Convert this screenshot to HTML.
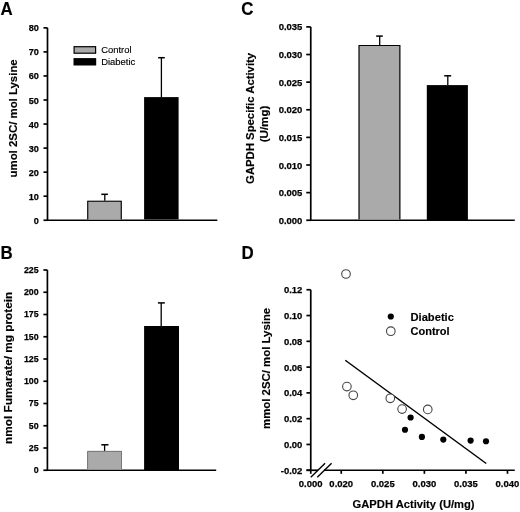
<!DOCTYPE html>
<html><head><meta charset="utf-8"><style>
html,body{margin:0;padding:0;background:#fff;}
svg{display:block;will-change:transform;}
text{font-family:"Liberation Sans",sans-serif;fill:#000;}
.tk{stroke:#000;stroke-width:0.2px;}
text{stroke:#000;stroke-width:0.15px;}
.tk{stroke-width:0.25px;}
</style></head><body>
<svg width="520" height="512" viewBox="0 0 520 512">
<rect width="520" height="512" fill="#fff"/>
<text x="0.4" y="14.5" font-size="17.6" font-weight="bold" textLength="12.2" lengthAdjust="spacingAndGlyphs">A</text>
<text x="0.6" y="258.6" font-size="17.6" font-weight="bold" textLength="12.2" lengthAdjust="spacingAndGlyphs">B</text>
<text x="241.2" y="14.5" font-size="17.6" font-weight="bold" textLength="12.2" lengthAdjust="spacingAndGlyphs">C</text>
<text x="241.6" y="258.6" font-size="17.6" font-weight="bold" textLength="12.2" lengthAdjust="spacingAndGlyphs">D</text>
<line x1="47.5" y1="27.850000000000023" x2="47.5" y2="221.0" stroke="#000" stroke-width="1.7"/>
<line x1="43.5" y1="220.25" x2="47.5" y2="220.25" stroke="#000" stroke-width="1.7"/>
<text class="tk" x="38.9" y="223.75" font-size="9.8" font-weight="bold" text-anchor="end" textLength="5.07" lengthAdjust="spacingAndGlyphs">0</text>
<line x1="43.5" y1="196.2" x2="47.5" y2="196.2" stroke="#000" stroke-width="1.7"/>
<text class="tk" x="38.9" y="199.7" font-size="9.8" font-weight="bold" text-anchor="end" textLength="10.14" lengthAdjust="spacingAndGlyphs">10</text>
<line x1="43.5" y1="172.15" x2="47.5" y2="172.15" stroke="#000" stroke-width="1.7"/>
<text class="tk" x="38.9" y="175.65" font-size="9.8" font-weight="bold" text-anchor="end" textLength="10.14" lengthAdjust="spacingAndGlyphs">20</text>
<line x1="43.5" y1="148.10000000000002" x2="47.5" y2="148.10000000000002" stroke="#000" stroke-width="1.7"/>
<text class="tk" x="38.9" y="151.60000000000002" font-size="9.8" font-weight="bold" text-anchor="end" textLength="10.14" lengthAdjust="spacingAndGlyphs">30</text>
<line x1="43.5" y1="124.05000000000001" x2="47.5" y2="124.05000000000001" stroke="#000" stroke-width="1.7"/>
<text class="tk" x="38.9" y="127.55000000000001" font-size="9.8" font-weight="bold" text-anchor="end" textLength="10.14" lengthAdjust="spacingAndGlyphs">40</text>
<line x1="43.5" y1="100.00000000000001" x2="47.5" y2="100.00000000000001" stroke="#000" stroke-width="1.7"/>
<text class="tk" x="38.9" y="103.50000000000001" font-size="9.8" font-weight="bold" text-anchor="end" textLength="10.14" lengthAdjust="spacingAndGlyphs">50</text>
<line x1="43.5" y1="75.95000000000002" x2="47.5" y2="75.95000000000002" stroke="#000" stroke-width="1.7"/>
<text class="tk" x="38.9" y="79.45000000000002" font-size="9.8" font-weight="bold" text-anchor="end" textLength="10.14" lengthAdjust="spacingAndGlyphs">60</text>
<line x1="43.5" y1="51.900000000000006" x2="47.5" y2="51.900000000000006" stroke="#000" stroke-width="1.7"/>
<text class="tk" x="38.9" y="55.400000000000006" font-size="9.8" font-weight="bold" text-anchor="end" textLength="10.14" lengthAdjust="spacingAndGlyphs">70</text>
<line x1="43.5" y1="27.850000000000023" x2="47.5" y2="27.850000000000023" stroke="#000" stroke-width="1.7"/>
<text class="tk" x="38.9" y="31.350000000000023" font-size="9.8" font-weight="bold" text-anchor="end" textLength="10.14" lengthAdjust="spacingAndGlyphs">80</text>
<line x1="46.75" y1="220.25" x2="217.3" y2="220.25" stroke="#000" stroke-width="1.7"/>
<rect x="87.20" y="200.70" width="34.60" height="18.70" fill="#aaaaaa"/>
<path d="M87.75,219.40 V201.25 H121.25 V219.40" fill="none" stroke="#000" stroke-width="1.1"/>
<line x1="104.8" y1="200.7" x2="104.8" y2="194.3" stroke="#000" stroke-width="1.3"/>
<line x1="101.3" y1="194.3" x2="107.9" y2="194.3" stroke="#000" stroke-width="1.5"/>
<rect x="144.10" y="97.10" width="34.50" height="122.30" fill="#000"/>
<line x1="161.4" y1="97.1" x2="161.4" y2="57.7" stroke="#000" stroke-width="1.3"/>
<line x1="158.1" y1="57.7" x2="164.8" y2="57.7" stroke="#000" stroke-width="1.5"/>
<rect x="74.10" y="46.70" width="21.50" height="6.50" fill="#aaaaaa" stroke="#000" stroke-width="1.2"/>
<rect x="73.50" y="58.10" width="22.70" height="7.40" fill="#000"/>
<text x="101.2" y="53.3" font-size="9.9" font-weight="normal" text-anchor="start" textLength="30.4" lengthAdjust="spacingAndGlyphs">Control</text>
<text x="101.2" y="65.2" font-size="9.9" font-weight="normal" text-anchor="start" textLength="34.1" lengthAdjust="spacingAndGlyphs">Diabetic</text>
<text transform="translate(17.4,118.4) rotate(-90)" x="0" y="0" font-size="10.6" font-weight="bold" text-anchor="middle" textLength="118.2" lengthAdjust="spacingAndGlyphs">umol 2SC/ mol Lysine</text>
<line x1="47.4" y1="270.0" x2="47.4" y2="471.0" stroke="#000" stroke-width="1.7"/>
<line x1="43.4" y1="470.25" x2="47.4" y2="470.25" stroke="#000" stroke-width="1.7"/>
<text class="tk" x="38.7" y="473.15" font-size="9.8" font-weight="bold" text-anchor="end" textLength="4.92" lengthAdjust="spacingAndGlyphs">0</text>
<line x1="43.4" y1="448.0" x2="47.4" y2="448.0" stroke="#000" stroke-width="1.7"/>
<text class="tk" x="38.7" y="450.9" font-size="9.8" font-weight="bold" text-anchor="end" textLength="9.83" lengthAdjust="spacingAndGlyphs">25</text>
<line x1="43.4" y1="425.75" x2="47.4" y2="425.75" stroke="#000" stroke-width="1.7"/>
<text class="tk" x="38.7" y="428.65" font-size="9.8" font-weight="bold" text-anchor="end" textLength="9.83" lengthAdjust="spacingAndGlyphs">50</text>
<line x1="43.4" y1="403.5" x2="47.4" y2="403.5" stroke="#000" stroke-width="1.7"/>
<text class="tk" x="38.7" y="406.4" font-size="9.8" font-weight="bold" text-anchor="end" textLength="9.83" lengthAdjust="spacingAndGlyphs">75</text>
<line x1="43.4" y1="381.25" x2="47.4" y2="381.25" stroke="#000" stroke-width="1.7"/>
<text class="tk" x="38.7" y="384.15" font-size="9.8" font-weight="bold" text-anchor="end" textLength="14.75" lengthAdjust="spacingAndGlyphs">100</text>
<line x1="43.4" y1="359.0" x2="47.4" y2="359.0" stroke="#000" stroke-width="1.7"/>
<text class="tk" x="38.7" y="361.9" font-size="9.8" font-weight="bold" text-anchor="end" textLength="14.75" lengthAdjust="spacingAndGlyphs">125</text>
<line x1="43.4" y1="336.75" x2="47.4" y2="336.75" stroke="#000" stroke-width="1.7"/>
<text class="tk" x="38.7" y="339.65" font-size="9.8" font-weight="bold" text-anchor="end" textLength="14.75" lengthAdjust="spacingAndGlyphs">150</text>
<line x1="43.4" y1="314.5" x2="47.4" y2="314.5" stroke="#000" stroke-width="1.7"/>
<text class="tk" x="38.7" y="317.4" font-size="9.8" font-weight="bold" text-anchor="end" textLength="14.75" lengthAdjust="spacingAndGlyphs">175</text>
<line x1="43.4" y1="292.25" x2="47.4" y2="292.25" stroke="#000" stroke-width="1.7"/>
<text class="tk" x="38.7" y="295.15" font-size="9.8" font-weight="bold" text-anchor="end" textLength="14.75" lengthAdjust="spacingAndGlyphs">200</text>
<line x1="43.4" y1="270.0" x2="47.4" y2="270.0" stroke="#000" stroke-width="1.7"/>
<text class="tk" x="38.7" y="272.9" font-size="9.8" font-weight="bold" text-anchor="end" textLength="14.75" lengthAdjust="spacingAndGlyphs">225</text>
<line x1="46.65" y1="470.25" x2="216.2" y2="470.25" stroke="#000" stroke-width="1.7"/>
<rect x="87.10" y="450.90" width="34.90" height="18.50" fill="#aaaaaa"/>
<path d="M87.60,469.40 V451.40 H121.50 V469.40" fill="none" stroke="#777" stroke-width="1.0"/>
<line x1="104.6" y1="450.9" x2="104.6" y2="444.8" stroke="#000" stroke-width="1.3"/>
<line x1="101.3" y1="444.8" x2="108.5" y2="444.8" stroke="#000" stroke-width="1.5"/>
<rect x="144.10" y="326.00" width="34.90" height="144.25" fill="#000"/>
<line x1="161.2" y1="326" x2="161.2" y2="302.9" stroke="#000" stroke-width="1.3"/>
<line x1="157.9" y1="302.9" x2="164.8" y2="302.9" stroke="#000" stroke-width="1.5"/>
<text transform="translate(11.9,367.8) rotate(-90)" x="0" y="0" font-size="10.6" font-weight="bold" text-anchor="middle" textLength="152.2" lengthAdjust="spacingAndGlyphs">nmol Fumarate/ mg protein</text>
<line x1="310.75" y1="26.9" x2="310.75" y2="221.0" stroke="#000" stroke-width="1.7"/>
<line x1="306.25" y1="220.25" x2="310.75" y2="220.25" stroke="#000" stroke-width="1.7"/>
<text class="tk" x="302.4" y="223.75" font-size="9.8" font-weight="bold" text-anchor="end" textLength="23.77" lengthAdjust="spacingAndGlyphs">0.000</text>
<line x1="306.25" y1="192.62857142857143" x2="310.75" y2="192.62857142857143" stroke="#000" stroke-width="1.7"/>
<text class="tk" x="302.4" y="196.12857142857143" font-size="9.8" font-weight="bold" text-anchor="end" textLength="23.77" lengthAdjust="spacingAndGlyphs">0.005</text>
<line x1="306.25" y1="165.00714285714287" x2="310.75" y2="165.00714285714287" stroke="#000" stroke-width="1.7"/>
<text class="tk" x="302.4" y="168.50714285714287" font-size="9.8" font-weight="bold" text-anchor="end" textLength="23.77" lengthAdjust="spacingAndGlyphs">0.010</text>
<line x1="306.25" y1="137.3857142857143" x2="310.75" y2="137.3857142857143" stroke="#000" stroke-width="1.7"/>
<text class="tk" x="302.4" y="140.8857142857143" font-size="9.8" font-weight="bold" text-anchor="end" textLength="23.77" lengthAdjust="spacingAndGlyphs">0.015</text>
<line x1="306.25" y1="109.76428571428572" x2="310.75" y2="109.76428571428572" stroke="#000" stroke-width="1.7"/>
<text class="tk" x="302.4" y="113.26428571428572" font-size="9.8" font-weight="bold" text-anchor="end" textLength="23.77" lengthAdjust="spacingAndGlyphs">0.020</text>
<line x1="306.25" y1="82.14285714285714" x2="310.75" y2="82.14285714285714" stroke="#000" stroke-width="1.7"/>
<text class="tk" x="302.4" y="85.64285714285714" font-size="9.8" font-weight="bold" text-anchor="end" textLength="23.77" lengthAdjust="spacingAndGlyphs">0.025</text>
<line x1="306.25" y1="54.5214285714286" x2="310.75" y2="54.5214285714286" stroke="#000" stroke-width="1.7"/>
<text class="tk" x="302.4" y="58.0214285714286" font-size="9.8" font-weight="bold" text-anchor="end" textLength="23.77" lengthAdjust="spacingAndGlyphs">0.030</text>
<line x1="306.25" y1="26.900000000000006" x2="310.75" y2="26.900000000000006" stroke="#000" stroke-width="1.7"/>
<text class="tk" x="302.4" y="30.400000000000006" font-size="9.8" font-weight="bold" text-anchor="end" textLength="23.77" lengthAdjust="spacingAndGlyphs">0.035</text>
<line x1="310.0" y1="220.25" x2="514.75" y2="220.25" stroke="#000" stroke-width="1.7"/>
<rect x="358.50" y="45.00" width="41.90" height="174.40" fill="#aaaaaa"/>
<path d="M359.05,219.40 V45.55 H399.85 V219.40" fill="none" stroke="#000" stroke-width="1.1"/>
<line x1="379.7" y1="45" x2="379.7" y2="36.1" stroke="#000" stroke-width="1.3"/>
<line x1="376.2" y1="36.1" x2="382.8" y2="36.1" stroke="#000" stroke-width="1.5"/>
<rect x="426.80" y="85.10" width="41.10" height="135.15" fill="#000"/>
<line x1="447.8" y1="85.1" x2="447.8" y2="75.8" stroke="#000" stroke-width="1.3"/>
<line x1="444.2" y1="75.8" x2="451.2" y2="75.8" stroke="#000" stroke-width="1.5"/>
<text transform="translate(254.3,118.4) rotate(-90)" x="0" y="0" font-size="10.6" font-weight="bold" text-anchor="middle" textLength="131.0" lengthAdjust="spacingAndGlyphs">GAPDH Specific Activity</text>
<text transform="translate(267.6,124.0) rotate(-90)" x="0" y="0" font-size="10.6" font-weight="bold" text-anchor="middle" textLength="36.6" lengthAdjust="spacingAndGlyphs">(U/mg)</text>
<line x1="310.75" y1="289.75" x2="310.75" y2="473.8" stroke="#000" stroke-width="1.7"/>
<line x1="306.45" y1="289.75" x2="310.75" y2="289.75" stroke="#000" stroke-width="1.7"/>
<text class="tk" x="302.4" y="293.25" font-size="9.8" font-weight="bold" text-anchor="end" textLength="18.49" lengthAdjust="spacingAndGlyphs">0.12</text>
<line x1="306.45" y1="315.53571428571433" x2="310.75" y2="315.53571428571433" stroke="#000" stroke-width="1.7"/>
<text class="tk" x="302.4" y="319.03571428571433" font-size="9.8" font-weight="bold" text-anchor="end" textLength="18.49" lengthAdjust="spacingAndGlyphs">0.10</text>
<line x1="306.45" y1="341.32142857142856" x2="310.75" y2="341.32142857142856" stroke="#000" stroke-width="1.7"/>
<text class="tk" x="302.4" y="344.82142857142856" font-size="9.8" font-weight="bold" text-anchor="end" textLength="18.49" lengthAdjust="spacingAndGlyphs">0.08</text>
<line x1="306.45" y1="367.1071428571429" x2="310.75" y2="367.1071428571429" stroke="#000" stroke-width="1.7"/>
<text class="tk" x="302.4" y="370.6071428571429" font-size="9.8" font-weight="bold" text-anchor="end" textLength="18.49" lengthAdjust="spacingAndGlyphs">0.06</text>
<line x1="306.45" y1="392.89285714285717" x2="310.75" y2="392.89285714285717" stroke="#000" stroke-width="1.7"/>
<text class="tk" x="302.4" y="396.39285714285717" font-size="9.8" font-weight="bold" text-anchor="end" textLength="18.49" lengthAdjust="spacingAndGlyphs">0.04</text>
<line x1="306.45" y1="418.67857142857144" x2="310.75" y2="418.67857142857144" stroke="#000" stroke-width="1.7"/>
<text class="tk" x="302.4" y="422.17857142857144" font-size="9.8" font-weight="bold" text-anchor="end" textLength="18.49" lengthAdjust="spacingAndGlyphs">0.02</text>
<line x1="306.45" y1="444.4642857142857" x2="310.75" y2="444.4642857142857" stroke="#000" stroke-width="1.7"/>
<text class="tk" x="302.4" y="447.9642857142857" font-size="9.8" font-weight="bold" text-anchor="end" textLength="18.49" lengthAdjust="spacingAndGlyphs">0.00</text>
<line x1="306.45" y1="470.25" x2="310.75" y2="470.25" stroke="#000" stroke-width="1.7"/>
<text class="tk" x="302.4" y="473.75" font-size="9.8" font-weight="bold" text-anchor="end" textLength="21.65" lengthAdjust="spacingAndGlyphs">-0.02</text>
<line x1="306.5" y1="470.25" x2="318.0" y2="470.25" stroke="#000" stroke-width="1.7"/>
<line x1="324.0" y1="470.25" x2="514.75" y2="470.25" stroke="#000" stroke-width="1.7"/>
<line x1="310.8" y1="477.3" x2="325.1" y2="463.2" stroke="#000" stroke-width="1.4"/>
<line x1="317.3" y1="477.3" x2="331.6" y2="463.2" stroke="#000" stroke-width="1.4"/>
<line x1="341.25" y1="470.25" x2="341.25" y2="473.8" stroke="#000" stroke-width="1.7"/>
<text class="tk" x="341.25" y="486.6" font-size="9.8" font-weight="bold" text-anchor="middle" textLength="23.77" lengthAdjust="spacingAndGlyphs">0.020</text>
<line x1="382.81" y1="470.25" x2="382.81" y2="473.8" stroke="#000" stroke-width="1.7"/>
<text class="tk" x="382.81" y="486.6" font-size="9.8" font-weight="bold" text-anchor="middle" textLength="23.77" lengthAdjust="spacingAndGlyphs">0.025</text>
<line x1="424.37" y1="470.25" x2="424.37" y2="473.8" stroke="#000" stroke-width="1.7"/>
<text class="tk" x="424.37" y="486.6" font-size="9.8" font-weight="bold" text-anchor="middle" textLength="23.77" lengthAdjust="spacingAndGlyphs">0.030</text>
<line x1="465.93" y1="470.25" x2="465.93" y2="473.8" stroke="#000" stroke-width="1.7"/>
<text class="tk" x="465.93" y="486.6" font-size="9.8" font-weight="bold" text-anchor="middle" textLength="23.77" lengthAdjust="spacingAndGlyphs">0.035</text>
<line x1="507.49" y1="470.25" x2="507.49" y2="473.8" stroke="#000" stroke-width="1.7"/>
<text class="tk" x="507.49" y="486.6" font-size="9.8" font-weight="bold" text-anchor="middle" textLength="23.77" lengthAdjust="spacingAndGlyphs">0.040</text>
<text class="tk" x="310.7" y="486.6" font-size="9.8" font-weight="bold" text-anchor="middle" textLength="23.77" lengthAdjust="spacingAndGlyphs">0.000</text>
<text x="413.6" y="508.0" font-size="11.2" font-weight="bold" text-anchor="middle" >GAPDH Activity (U/mg)</text>
<text transform="translate(269.6,368.4) rotate(-90)" x="0" y="0" font-size="10.6" font-weight="bold" text-anchor="middle" textLength="121.2" lengthAdjust="spacingAndGlyphs">mmol 2SC/ mol Lysine</text>
<line x1="345.25" y1="360.25" x2="486.25" y2="463.5" stroke="#000" stroke-width="1.5"/>
<circle cx="346" cy="274" r="4.3" fill="#fff" stroke="#444" stroke-width="1.1"/>
<circle cx="346.9" cy="386.6" r="4.3" fill="#fff" stroke="#444" stroke-width="1.1"/>
<circle cx="353.25" cy="395.3" r="4.3" fill="#fff" stroke="#444" stroke-width="1.1"/>
<circle cx="390.3" cy="398.3" r="4.3" fill="#fff" stroke="#444" stroke-width="1.1"/>
<circle cx="402.1" cy="409.1" r="4.3" fill="#fff" stroke="#444" stroke-width="1.1"/>
<circle cx="427.75" cy="409.4" r="4.3" fill="#fff" stroke="#444" stroke-width="1.1"/>
<circle cx="410.6" cy="417.5" r="3.1" fill="#000"/>
<circle cx="405" cy="429.75" r="3.1" fill="#000"/>
<circle cx="421.9" cy="436.9" r="3.1" fill="#000"/>
<circle cx="443.3" cy="439.6" r="3.1" fill="#000"/>
<circle cx="470.6" cy="440.6" r="3.1" fill="#000"/>
<circle cx="486" cy="441.25" r="3.1" fill="#000"/>
<circle cx="390.8" cy="316.5" r="3.1" fill="#000"/>
<circle cx="390.8" cy="331.2" r="4.3" fill="#fff" stroke="#444" stroke-width="1.1"/>
<text x="410.5" y="320.7" font-size="11" font-weight="bold" text-anchor="start" textLength="43.4" lengthAdjust="spacingAndGlyphs">Diabetic</text>
<text x="410.5" y="334.5" font-size="11" font-weight="bold" text-anchor="start" >Control</text>
</svg>
</body></html>
